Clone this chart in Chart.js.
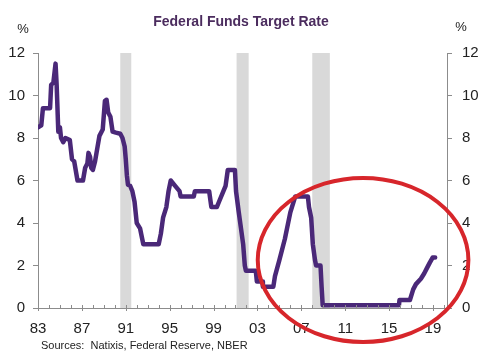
<!DOCTYPE html>
<html>
<head>
<meta charset="utf-8">
<script src="https://cdn.jsdelivr.net/npm/chart.js@4/dist/chart.umd.min.js"></script>
<style>
html,body{margin:0;padding:0;background:#fff;}
#wrap{width:492px;height:363px;}
</style>
</head>
<body>
<div id="wrap"><canvas id="c" width="492" height="363"></canvas></div>
<script>
// ---- data ----
const chartTitle = "Federal Funds Target Rate";
const sourceNote = "Sources:  Natixis, Federal Reserve, NBER";
const years = [1983.0,1983.3,1983.45,1984.1,1984.2,1984.4,1984.6,1984.7,1984.85,1985.0,1985.1,1985.3,1985.5,1985.9,1986.1,1986.3,1986.6,1987.1,1987.3,1987.5,1987.6,1987.75,1987.85,1988.0,1988.2,1988.4,1988.6,1988.9,1989.1,1989.25,1989.4,1989.6,1989.8,1990.1,1990.5,1990.7,1990.9,1991.0,1991.1,1991.2,1991.4,1991.6,1991.8,1992.0,1992.3,1992.5,1992.6,1994.0,1994.2,1994.4,1994.7,1994.9,1995.1,1995.5,1995.9,1996.0,1997.2,1997.3,1998.6,1998.8,1999.3,1999.5,1999.9,2000.1,2000.3,2000.95,2001.05,2001.3,2001.5,2001.7,2001.85,2001.95,2002.85,2002.95,2003.45,2003.5,2004.45,2004.6,2005.0,2005.5,2006.0,2006.45,2007.6,2007.7,2007.9,2008.05,2008.25,2008.35,2008.75,2008.85,2008.95,2015.9,2015.95,2016.9,2017.2,2017.45,2017.9,2018.2,2018.45,2018.7,2018.97,2019.2];
const rates = [8.5,8.6,9.4,9.4,10.5,10.6,11.5,10.5,8.3,8.5,8.0,7.8,8.0,7.9,7.0,6.9,6.0,6.0,6.6,6.8,7.3,7.1,6.6,6.5,6.9,7.5,8.1,8.4,9.75,9.8,9.2,9.0,8.3,8.25,8.2,8.0,7.6,7.0,6.25,5.8,5.75,5.5,5.0,4.0,3.75,3.25,3.0,3.0,3.5,4.25,4.75,5.5,6.0,5.75,5.5,5.25,5.25,5.5,5.5,4.75,4.75,5.0,5.5,5.75,6.5,6.5,5.5,4.5,3.75,3.0,2.0,1.75,1.75,1.25,1.25,1.0,1.0,1.5,2.25,3.25,4.5,5.25,5.25,4.75,4.25,3.0,2.25,2.0,2.0,1.0,0.125,0.125,0.375,0.375,0.875,1.125,1.375,1.625,1.875,2.125,2.375,2.375];
const recessionStart = [1990.5, 2001.1, 2008.0];
const recessionEnd   = [1991.5, 2002.2, 2009.6];
const yTickValues = [0,2,4,6,8,10,12];
const xLabelYears = [1983,1987,1991,1995,1999,2003,2007,2011,2015,2019];
// highlight ellipse (data units: centre year, centre rate, half-width years, half-height rate)
const ellipseCenter = [2012.63, 2.26];
const ellipseRadius = [9.6, 3.86];

const points = years.map((y,i)=>({x:y, y:rates[i]}));
const FONT = "'Liberation Sans', Arial, sans-serif";
const AXIS = '#8c8c8c';

const decor = {
  id:'decor',
  beforeDatasetsDraw(chart){
    const {ctx, chartArea:a, scales:{x}} = chart;
    ctx.save();
    ctx.fillStyle = '#d9d9d9';
    recessionStart.forEach((s,i)=>{
      const x0 = x.getPixelForValue(s), x1 = x.getPixelForValue(recessionEnd[i]);
      ctx.fillRect(x0, a.top, x1-x0, a.bottom-a.top);
    });
    ctx.restore();
  },
  afterDraw(chart){
    const {ctx, chartArea:a, scales:{x,y}} = chart;
    ctx.save();
    // x ticks
    ctx.strokeStyle = AXIS; ctx.lineWidth = 1;
    for(let yr=1983; yr<=2020; yr++){
      const px = Math.round(x.getPixelForValue(yr))+0.5;
      const major = xLabelYears.includes(yr);
      ctx.beginPath();
      ctx.moveTo(px, a.bottom-3);
      ctx.lineTo(px, major ? a.bottom+3 : a.bottom);
      ctx.stroke();
    }
    // title
    ctx.fillStyle = '#4b2c5e';
    ctx.font = "bold 14px " + FONT;
    ctx.textAlign = 'center'; ctx.textBaseline = 'middle';
    ctx.fillText(chartTitle, 241, 22);
    // % labels
    ctx.fillStyle = '#222';
    ctx.font = "13px " + FONT;
    ctx.fillText('%', 23, 29);
    ctx.fillText('%', 461, 27);
    // source
    ctx.textAlign = 'left';
    ctx.font = "11px " + FONT;
    ctx.fillStyle = '#222';
    ctx.fillText(sourceNote, 41, 346);
    // highlight ellipse
    const cx = x.getPixelForValue(ellipseCenter[0]);
    const cy = y.getPixelForValue(ellipseCenter[1]);
    const rx = x.getPixelForValue(ellipseCenter[0]+ellipseRadius[0]) - cx;
    const ry = cy - y.getPixelForValue(ellipseCenter[1]+ellipseRadius[1]);
    ctx.strokeStyle = '#d7262b';
    ctx.lineWidth = 4;
    ctx.beginPath();
    ctx.ellipse(cx, cy, rx, ry, 0, 0, Math.PI*2);
    ctx.stroke();
    ctx.restore();
  }
};

new Chart(document.getElementById('c'), {
  type:'line',
  data:{ datasets:[{
    data: points,
    borderColor:'#4a2878',
    borderWidth:4.5,
    pointRadius:0,
    tension:0,
    borderJoinStyle:'round',
    borderCapStyle:'round',
    yAxisID:'y'
  }]},
  options:{
    responsive:false,
    animation:false,
    events:[],
    layout:{padding:{top:53,left:0,right:0,bottom:0}},
    plugins:{legend:{display:false}, title:{display:false}, tooltip:{enabled:false}},
    scales:{
      x:{
        type:'linear', min:1983, max:2020.28,
        afterFit(s){ s.height = 55; },
        grid:{display:false, drawTicks:false},
        border:{display:true, color:AXIS, width:1},
        afterBuildTicks(s){ s.ticks = xLabelYears.map(v=>({value:v})); },
        ticks:{
          autoSkip:false, maxRotation:0, padding:12,
          color:'#222', font:{family:FONT, size:15},
          callback:(v)=>String(v).slice(2)
        }
      },
      y:{
        position:'left', min:0, max:12,
        afterFit(s){ s.width = 38; },
        afterBuildTicks(s){ s.ticks = yTickValues.map(v=>({value:v})); },
        grid:{drawOnChartArea:false, drawTicks:true, tickLength:5, color:AXIS},
        border:{display:true, color:AXIS, width:1},
        ticks:{padding:8, color:'#222', font:{family:FONT, size:15}}
      },
      y2:{
        position:'right', min:0, max:12,
        afterFit(s){ s.width = 45; },
        afterBuildTicks(s){ s.ticks = yTickValues.map(v=>({value:v})); },
        grid:{drawOnChartArea:false, drawTicks:true, tickLength:5, color:AXIS},
        border:{display:true, color:AXIS, width:1},
        ticks:{padding:10, color:'#222', font:{family:FONT, size:15}}
      }
    }
  },
  plugins:[decor]
});
</script>
</body>
</html>
